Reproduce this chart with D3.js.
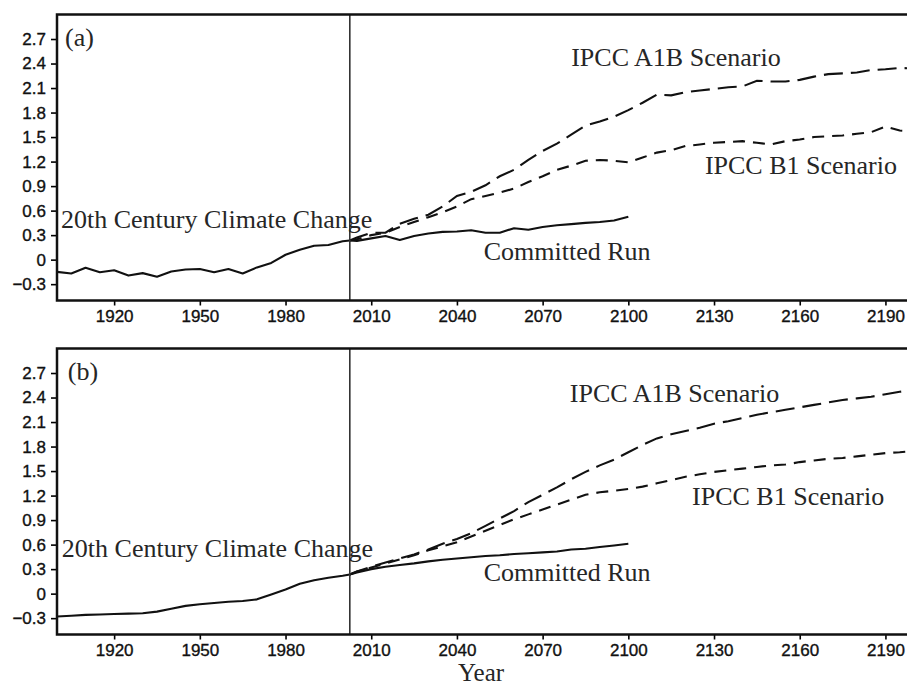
<!DOCTYPE html>
<html>
<head>
<meta charset="utf-8">
<script src="https://cdn.jsdelivr.net/npm/d3@7"></script>
<style>
  html, body { margin: 0; padding: 0; background: #fff; overflow: hidden; }
  svg { display: block; }
</style>
</head>
<body>
<svg id="chart" width="907" height="687"></svg>
<script>
// ---- data -------------------------------------------------------------
const splitYear = 2002.5;

const histYears = [1900, 1905, 1910, 1915, 1920, 1925, 1930, 1935, 1940, 1945,
  1950, 1955, 1960, 1965, 1970, 1975, 1980, 1985, 1990, 1995, 2000, 2002.5];

const committedYears = [2002.5, 2005, 2010, 2015, 2020, 2025, 2030, 2035, 2040,
  2045, 2050, 2055, 2060, 2065, 2070, 2075, 2080, 2085, 2090, 2095, 2100];

const scenarioYears = [2002.5, 2005, 2010, 2015, 2020, 2025, 2030, 2035, 2040,
  2045, 2050, 2055, 2060, 2065, 2070, 2075, 2080, 2085, 2090, 2095, 2100,
  2105, 2110, 2115, 2120, 2125, 2130, 2135, 2140, 2145, 2150, 2155, 2160,
  2165, 2170, 2175, 2180, 2185, 2190, 2195, 2200];

// panel (a)
const histA = [-0.15, -0.17, -0.10, -0.155, -0.13, -0.195, -0.165, -0.21, -0.145, -0.12,
  -0.115, -0.155, -0.115, -0.17, -0.095, -0.04, 0.06, 0.12, 0.17, 0.18, 0.225, 0.235];
const committedA = [0.235, 0.23, 0.26, 0.29, 0.24, 0.29, 0.32, 0.34, 0.345, 0.36,
  0.33, 0.33, 0.385, 0.365, 0.40, 0.42, 0.435, 0.45, 0.46, 0.48, 0.525];
const a1bA = [0.235, 0.27, 0.33, 0.33, 0.44, 0.50, 0.55, 0.65, 0.78, 0.83, 0.91,
  1.02, 1.10, 1.22, 1.33, 1.42, 1.53, 1.64, 1.69, 1.75, 1.83, 1.92, 2.02, 2.01,
  2.05, 2.07, 2.09, 2.11, 2.12, 2.19, 2.18, 2.18, 2.20, 2.24, 2.27, 2.28, 2.29,
  2.32, 2.33, 2.345, 2.34];
const b1A = [0.235, 0.25, 0.30, 0.33, 0.40, 0.46, 0.52, 0.58, 0.65, 0.74, 0.78,
  0.82, 0.87, 0.95, 1.02, 1.10, 1.15, 1.21, 1.22, 1.21, 1.19, 1.25, 1.31, 1.34,
  1.39, 1.41, 1.43, 1.44, 1.45, 1.43, 1.41, 1.45, 1.47, 1.50, 1.51, 1.52, 1.54,
  1.56, 1.63, 1.58, 1.57];

// panel (b)
const histB = [-0.28, -0.27, -0.26, -0.255, -0.25, -0.245, -0.24, -0.22, -0.185, -0.15,
  -0.13, -0.115, -0.10, -0.09, -0.07, -0.01, 0.05, 0.12, 0.165, 0.195, 0.22, 0.235];
const committedB = [0.235, 0.26, 0.30, 0.33, 0.35, 0.37, 0.395, 0.415, 0.43, 0.445,
  0.46, 0.47, 0.485, 0.495, 0.505, 0.515, 0.54, 0.55, 0.57, 0.59, 0.61];
const a1bB = [0.235, 0.27, 0.33, 0.38, 0.43, 0.48, 0.54, 0.61, 0.67, 0.74, 0.83,
  0.92, 1.01, 1.12, 1.21, 1.30, 1.40, 1.49, 1.57, 1.64, 1.73, 1.82, 1.90, 1.95,
  1.99, 2.03, 2.08, 2.11, 2.15, 2.19, 2.22, 2.25, 2.28, 2.31, 2.34, 2.37, 2.39,
  2.41, 2.44, 2.47, 2.49];
const b1B = [0.235, 0.27, 0.32, 0.37, 0.42, 0.47, 0.53, 0.58, 0.63, 0.70, 0.77,
  0.84, 0.91, 0.97, 1.03, 1.09, 1.15, 1.21, 1.24, 1.26, 1.28, 1.31, 1.35, 1.39,
  1.43, 1.46, 1.49, 1.51, 1.53, 1.55, 1.57, 1.58, 1.61, 1.63, 1.65, 1.66, 1.68,
  1.70, 1.72, 1.73, 1.745];

// axes
const yTicks = [-0.3, 0, 0.3, 0.6, 0.9, 1.2, 1.5, 1.8, 2.1, 2.4, 2.7];
const yTickLabels = ["\u22120.3", "0", "0.3", "0.6", "0.9", "1.2", "1.5", "1.8", "2.1", "2.4", "2.7"];
const xTicks = [1920, 1950, 1980, 2010, 2040, 2070, 2100, 2130, 2160, 2190];
const xTickLabels = ["1920", "1950", "1980", "2010", "2040", "2070", "2100", "2130", "2160", "2190"];

const panelTags = ["(a)", "(b)"];
const histLabel = "20th Century Climate Change";
const a1bLabel = "IPCC A1B Scenario";
const b1Label = "IPCC B1 Scenario";
const committedLabel = "Committed Run";
const xTitle = "Year";

// ---- layout -----------------------------------------------------------
const svg = d3.select("#chart");
const left = 57, right = 914;
const panelH = 286;
const panelTops = [14.5, 348.5];

const x = d3.scaleLinear().domain([1900, 2200]).range([left, right]);
const y = d3.scaleLinear().domain([-0.5, 3.0]).range([panelH, 0]);

const line = d3.line().x(d => x(d[0])).y(d => y(d[1]));
const zip = (xs, ys) => xs.map((v, i) => [v, ys[i]]);

const serif = "'Liberation Serif', 'Times New Roman', serif";
const sans = "'Liberation Sans', Arial, sans-serif";
const labelColor = "#262626";

const panels = [
  { tag: panelTags[0], hist: histA, committed: committedA, a1b: a1bA, b1: b1A,
    pos: { tag: [1902.8, 2.61], hist: [1901.4, 0.39], a1b: [2080, 2.37], b1: [2126.8, 1.05], committed: [2049.4, 0.0] } },
  { tag: panelTags[1], hist: histB, committed: committedB, a1b: a1bB, b1: b1B,
    pos: { tag: [1903.8, 2.62], hist: [1901.7, 0.45], a1b: [2079.5, 2.34], b1: [2122.3, 1.08], committed: [2049.4, 0.16] } }
];

function styleTicks(sel) {
  sel.selectAll("line").attr("stroke", "#000").attr("stroke-width", 1.6);
  sel.selectAll("text")
    .attr("font-family", sans).attr("font-size", 17)
    .attr("fill", "#111").attr("stroke", "#111").attr("stroke-width", 0.35);
}

panels.forEach((p, i) => {
  const g = svg.append("g").attr("transform", `translate(0,${panelTops[i]})`);

  // y axis
  const ya = g.append("g").attr("transform", `translate(${left},0)`)
    .call(d3.axisLeft(y).tickValues(yTicks).tickSize(6).tickPadding(5)
      .tickFormat((d, k) => yTickLabels[k]));
  ya.select(".domain").remove();
  styleTicks(ya);

  // x axis
  const xa = g.append("g").attr("transform", `translate(0,${panelH})`)
    .call(d3.axisBottom(x).tickValues(xTicks).tickSize(5).tickPadding(4)
      .tickFormat((d, k) => xTickLabels[k]));
  xa.select(".domain").remove();
  styleTicks(xa);

  // series
  g.append("path").attr("d", line(zip(histYears, p.hist)))
    .attr("fill", "none").attr("stroke", "#111").attr("stroke-width", 2.1)
    .attr("stroke-linejoin", "round");
  g.append("path").attr("d", line(zip(committedYears, p.committed)))
    .attr("fill", "none").attr("stroke", "#111").attr("stroke-width", 2.1)
    .attr("stroke-linejoin", "round");
  g.append("path").attr("d", line(zip(scenarioYears, p.a1b)))
    .attr("fill", "none").attr("stroke", "#111").attr("stroke-width", 2.1)
    .attr("stroke-dasharray", "19,8");
  g.append("path").attr("d", line(zip(scenarioYears, p.b1)))
    .attr("fill", "none").attr("stroke", "#111").attr("stroke-width", 2.1)
    .attr("stroke-dasharray", "12,8");

  // divider between observed period and projections
  g.append("line")
    .attr("x1", x(splitYear)).attr("x2", x(splitYear))
    .attr("y1", 0).attr("y2", panelH)
    .attr("stroke", "#333").attr("stroke-width", 1.6);

  // frame
  g.append("rect").attr("x", left).attr("y", 0)
    .attr("width", right - left).attr("height", panelH)
    .attr("fill", "none").attr("stroke", "#111").attr("stroke-width", 2.5);

  // annotations
  const ann = [
    [p.tag, p.pos.tag],
    [histLabel, p.pos.hist],
    [a1bLabel, p.pos.a1b],
    [b1Label, p.pos.b1],
    [committedLabel, p.pos.committed]
  ];
  g.selectAll("text.ann").data(ann).join("text")
    .attr("class", "ann")
    .attr("x", d => x(d[1][0]))
    .attr("y", d => y(d[1][1]))
    .attr("font-family", serif).attr("font-size", 26)
    .attr("fill", labelColor)
    .text(d => d[0]);
});

// x axis title
svg.append("text")
  .attr("x", 458).attr("y", 681.3)
  .attr("font-family", serif).attr("font-size", 25)
  .attr("fill", labelColor)
  .text(xTitle);
</script>
</body>
</html>
